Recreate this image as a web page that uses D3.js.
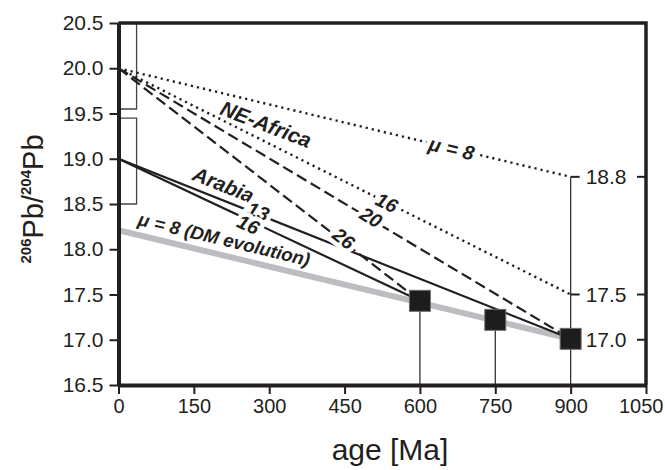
<!DOCTYPE html>
<html>
<head>
<meta charset="utf-8">
<script src="https://cdn.jsdelivr.net/npm/d3@7"></script>
<style>
  html, body { margin: 0; padding: 0; background: #fff; }
  svg { display: block; font-family: "Liberation Sans", Arial, sans-serif; }
</style>
</head>
<body>
<div id="chart"></div>
<script>
// ---- data ----
const xTicks = [0, 150, 300, 450, 600, 750, 900, 1050];
const yTicks = [16.5, 17.0, 17.5, 18.0, 18.5, 19.0, 19.5, 20.0, 20.5];
const rightTicks = [18.8, 17.5, 17.0];

// NE-Africa source evolution lines (start at age 0, 206Pb/204Pb = 20.0)
const neAfricaStart = 20.0;
const neAfricaMu = ['μ = 8', '16', '20', '26'];
const neAfricaEndAge = [900, 900, 900, 600];
const neAfricaEndPb = [18.8, 17.5, 17.01, 17.43];
const neAfricaDash = ['dot', 'dot', 'dash', 'dash'];

// Arabia source evolution lines (start at 19.0)
const arabiaStart = 19.0;
const arabiaMu = ['13', '16'];
const arabiaEndAge = [900, 600];
const arabiaEndPb = [17.01, 17.43];

// depleted mantle evolution (mu = 8)
const dmAge = [0, 900];
const dmPb = [18.21, 17.01];

// samples
const sampleAge = [600, 750, 900];
const samplePb = [17.43, 17.22, 17.01];

// brackets along the y axis
const bracketLo = [19.55, 18.5];
const bracketHi = [20.5, 19.45];

(function () {
    'use strict';

    // ---- layout ----
    const W = 665, H = 470;
    const mLeft = 118.5, mRight = 646, mTop = 23, mBottom = 385;

    const x = d3.scaleLinear().domain([0, 1050]).range([mLeft, mRight]);
    const y = d3.scaleLinear().domain([16.5, 20.5]).range([mBottom, mTop]);

    const ink = '#231f20';

    const svg = d3.select('#chart').append('svg')
        .attr('width', W)
        .attr('height', H);

    // line objects
    const lines = [];
    neAfricaMu.forEach((m, i) => {
        lines.push({ key: 'ne' + i, a0: 0, p0: neAfricaStart, a1: neAfricaEndAge[i], p1: neAfricaEndPb[i], style: neAfricaDash[i] });
    });
    arabiaMu.forEach((m, i) => {
        lines.push({ key: 'ar' + i, a0: 0, p0: arabiaStart, a1: arabiaEndAge[i], p1: arabiaEndPb[i], style: 'solid' });
    });
    const dmLine = { key: 'dm', a0: dmAge[0], p0: dmPb[0], a1: dmAge[1], p1: dmPb[1] };
    const lineByKey = {};
    lines.forEach(l => lineByKey[l.key] = l);
    lineByKey.dm = dmLine;

    // brackets (drawn under everything)
    bracketLo.forEach((lo, i) => {
        const bx = x(36);
        svg.append('path')
            .attr('d', `M${mLeft},${y(bracketHi[i])} H${bx} V${y(lo)} H${mLeft}`)
            .attr('fill', 'none')
            .attr('stroke', '#444')
            .attr('stroke-width', 1.3);
    });

    // drop lines from samples to axis
    sampleAge.forEach((a, i) => {
        const topPb = a === 900 ? d3.max(rightTicks) : samplePb[i];
        svg.append('line')
            .attr('x1', x(a)).attr('x2', x(a))
            .attr('y1', y(topPb)).attr('y2', mBottom)
            .attr('stroke', '#333')
            .attr('stroke-width', 1.3);
    });

    // ticks on the 900 Ma line + right border
    rightTicks.forEach(v => {
        svg.append('line')
            .attr('x1', x(900)).attr('x2', x(900) + 9)
            .attr('y1', y(v)).attr('y2', y(v))
            .attr('stroke', ink).attr('stroke-width', 2);
        svg.append('line')
            .attr('x1', mRight - 9).attr('x2', mRight)
            .attr('y1', y(v)).attr('y2', y(v))
            .attr('stroke', ink).attr('stroke-width', 2);
        svg.append('text')
            .attr('x', x(900) + 15)
            .attr('y', y(v))
            .attr('dy', '0.36em')
            .attr('font-size', 21)
            .attr('fill', ink)
            .text(v.toFixed(1));
    });

    // DM evolution (gray)
    svg.append('line')
        .attr('x1', x(dmLine.a0)).attr('y1', y(dmLine.p0))
        .attr('x2', x(dmLine.a1)).attr('y2', y(dmLine.p1))
        .attr('stroke', '#bcbdc0')
        .attr('stroke-width', 6);

    // evolution lines
    const dashes = { dot: '2.2,4', dash: '11,5', solid: null };
    svg.selectAll('line.evo')
        .data(lines)
        .enter().append('line')
        .attr('class', 'evo')
        .attr('x1', d => x(d.a0)).attr('y1', d => y(d.p0))
        .attr('x2', d => x(d.a1)).attr('y2', d => y(d.p1))
        .attr('stroke', ink)
        .attr('stroke-width', d => d.style === 'dot' ? 2.4 : 2.2)
        .attr('stroke-dasharray', d => dashes[d.style]);

    // labels: placed along a line at a given age, with a perpendicular offset (px)
    function angleOf(l) {
        return Math.atan2(y(l.p1) - y(l.p0), x(l.a1) - x(l.a0)) * 180 / Math.PI;
    }
    function pointOn(l, age) {
        const t = (age - l.a0) / (l.a1 - l.a0);
        return [x(l.a0) + t * (x(l.a1) - x(l.a0)), y(l.p0) + t * (y(l.p1) - y(l.p0))];
    }

    const labels = [
        { text: 'NE-Africa', line: 'ne0', age: 308, off: 20, size: 21, angle: 21 },
        { text: neAfricaMu[0], line: 'ne0', age: 663, off: 0, size: 20, halo: true },
        { text: neAfricaMu[1], line: 'ne1', age: 534, off: 0, size: 19.5, halo: true },
        { text: neAfricaMu[2], line: 'ne2', age: 501, off: -2, size: 19.5, halo: true },
        { text: neAfricaMu[3], line: 'ne3', age: 445, off: -3, size: 19.5, halo: true },
        { text: 'Arabia', line: 'ar0', age: 198, off: -15, size: 20.5 },
        { text: arabiaMu[0], line: 'ar0', age: 276, off: -3, size: 19.5, halo: true },
        { text: arabiaMu[1], line: 'ar1', age: 262, off: 4, size: 19.5, halo: true },
        { text: 'μ = 8 (DM evolution)', line: 'dm', age: 203, off: -16, size: 18.5 }
    ];

    labels.forEach(lb => {
        const l = lineByKey[lb.line];
        const ang = lb.angle != null ? lb.angle : angleOf(l);
        const [px, py] = pointOn(l, lb.age);
        const r = ang * Math.PI / 180;
        const cx = px - Math.sin(r) * lb.off;
        const cy = py + Math.cos(r) * lb.off;
        const t = svg.append('text')
            .attr('transform', `translate(${cx},${cy}) rotate(${ang})`)
            .attr('text-anchor', 'middle')
            .attr('dy', '0.36em')
            .attr('font-size', lb.size)
            .attr('font-weight', 'bold')
            .attr('font-style', 'italic')
            .attr('fill', ink)
            .text(lb.text);
        if (lb.halo) {
            t.attr('stroke', '#fff')
                .attr('stroke-width', 9)
                .attr('paint-order', 'stroke')
                .attr('stroke-linejoin', 'round');
        }
    });

    // samples
    svg.selectAll('rect.sample')
        .data(sampleAge)
        .enter().append('rect')
        .attr('class', 'sample')
        .attr('x', d => x(d) - 10.5)
        .attr('y', (d, i) => y(samplePb[i]) - 10.5)
        .attr('width', 21)
        .attr('height', 21)
        .attr('fill', '#1e1c1d')
        .attr('stroke', '#6d6e70')
        .attr('stroke-width', 1);

    // frame
    svg.append('path')
        .attr('d', `M${mLeft},${mTop} H${mRight} V${mBottom}`)
        .attr('fill', 'none')
        .attr('stroke', ink)
        .attr('stroke-width', 3.5);

    // axes
    const yAxis = svg.append('g')
        .attr('transform', `translate(${mLeft},0)`)
        .call(d3.axisLeft(y).tickValues(yTicks).tickFormat(d3.format('.1f')).tickSize(9).tickSizeOuter(0).tickPadding(6));
    const xAxis = svg.append('g')
        .attr('transform', `translate(0,${mBottom})`)
        .call(d3.axisBottom(x).tickValues(xTicks).tickFormat(d3.format('d')).tickSize(9).tickSizeOuter(0).tickPadding(5));

    [yAxis, xAxis].forEach(ax => {
        ax.select('.domain').attr('stroke', ink).attr('stroke-width', 4);
        ax.selectAll('.tick line').attr('stroke', ink).attr('stroke-width', 2);
        ax.selectAll('.tick text')
            .attr('fill', ink)
            .attr('font-size', 21)
            .attr('font-family', '"Liberation Sans", Arial, sans-serif');
    });
    xAxis.selectAll('.tick text').attr('font-size', 20);
    // keep the last label inside the picture
    xAxis.selectAll('.tick text').filter(d => d === 1050)
        .attr('text-anchor', 'end')
        .attr('x', 17);

    // axis titles
    svg.append('text')
        .attr('x', 390)
        .attr('y', 460)
        .attr('text-anchor', 'middle')
        .attr('font-size', 30)
        .attr('fill', ink)
        .text('age [Ma]');

    const yt = svg.append('text')
        .attr('transform', 'translate(43,199) rotate(-90)')
        .attr('text-anchor', 'middle')
        .attr('font-size', 29)
        .attr('fill', ink);
    yt.append('tspan').attr('font-size', 15).attr('font-weight', 'bold').attr('dy', -12).text('206');
    yt.append('tspan').attr('dy', 12).text('Pb/');
    yt.append('tspan').attr('font-size', 15).attr('font-weight', 'bold').attr('dy', -12).text('204');
    yt.append('tspan').attr('dy', 12).text('Pb');
})();
</script>
</body>
</html>
